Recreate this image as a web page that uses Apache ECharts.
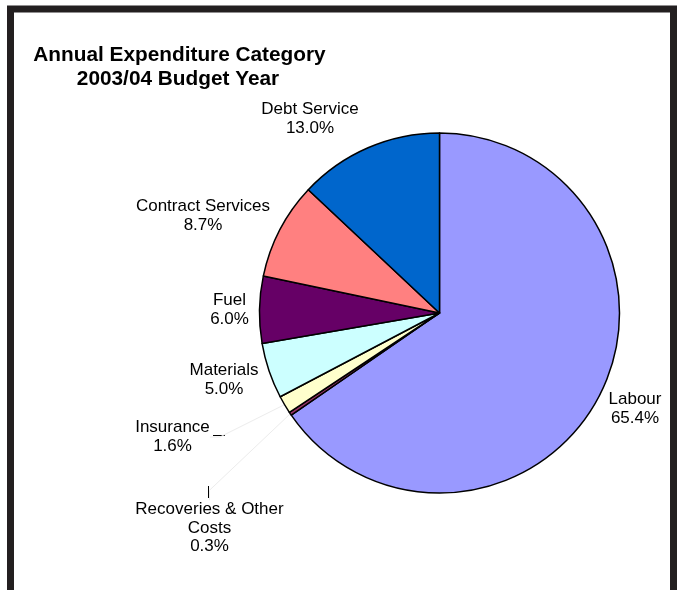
<!DOCTYPE html>
<html>
<head>
<meta charset="utf-8">
<script src="https://cdn.jsdelivr.net/npm/echarts@6/dist/echarts.min.js"></script>
<style>
html,body{margin:0;padding:0;background:#fff;}
#chart{width:678px;height:590px;}
</style>
</head>
<body>
<div id="chart"></div>
<script>
// Data
var categories = ['Labour', 'Recoveries & Other\nCosts', 'Insurance', 'Materials', 'Fuel', 'Contract Services', 'Debt Service'];
var shares = [65.4, 0.3, 1.6, 5.0, 6.0, 8.7, 13.0];
var titleLines = ['Annual Expenditure Category', '2003/04 Budget Year'];

// Styles
var colors = ['#9999FF', '#993366', '#FFFFCC', '#CCFFFF', '#660066', '#FF8080', '#0066CC'];
var labelPos = [[635, 409], [209.5, 528], [172.5, 437], [224, 380], [229.5, 310], [203, 216], [310, 119]];
var showLine = [false, true, true, false, false, false, false];

var chart = echarts.init(document.getElementById('chart'), null, {renderer: 'canvas'});

var data = categories.map(function (c, i) {
  return {
    name: c,
    value: shares[i],
    itemStyle: {color: colors[i]},
    labelLine: {show: showLine[i]}
  };
});

chart.setOption({
  animation: false,
  backgroundColor: '#fff',
  graphic: [
    {type: 'rect', shape: {x: 10.5, y: 9, width: 663, height: 585},
     style: {fill: 'none', stroke: '#231f20', lineWidth: 7}, z: 100},
    {type: 'text', x: 179.5, y: 55, style: {text: titleLines[0], font: 'bold 20.8px "Liberation Sans", Arial, sans-serif', fill: '#000', align: 'center', verticalAlign: 'middle'}},
    {type: 'text', x: 178, y: 79, style: {text: titleLines[1], font: 'bold 20.8px "Liberation Sans", Arial, sans-serif', fill: '#000', align: 'center', verticalAlign: 'middle'}},
    {type: 'line', shape: {x1: 213, y1: 435.5, x2: 225, y2: 435.5}, style: {stroke: '#000', lineWidth: 1}},
    {type: 'line', shape: {x1: 208.5, y1: 486, x2: 208.5, y2: 498}, style: {stroke: '#000', lineWidth: 1}}
  ],
  series: [{
    type: 'pie',
    center: [439.5, 313],
    radius: [0, 180],
    startAngle: 90,
    clockwise: true,
    avoidLabelOverlap: false,
    minAngle: 0,
    itemStyle: {borderColor: '#000', borderWidth: 1.5},
    emphasis: {disabled: true},
    label: {
      show: true,
      position: 'outside',
      color: '#000',
      fontFamily: '"Liberation Sans", Arial, sans-serif',
      fontSize: 17,
      lineHeight: 18.5,
      align: 'center',
      formatter: function (p) { return p.name + '\n' + p.value.toFixed(1) + '%'; }
    },
    labelLine: {lineStyle: {color: '#ececec', width: 1}, length: 10, length2: 10},
    labelLayout: function (p) {
      var pos = labelPos[p.dataIndex];
      return {x: pos[0], y: pos[1], align: 'center', verticalAlign: 'middle'};
    },
    data: data
  }]
});
</script>
</body>
</html>
